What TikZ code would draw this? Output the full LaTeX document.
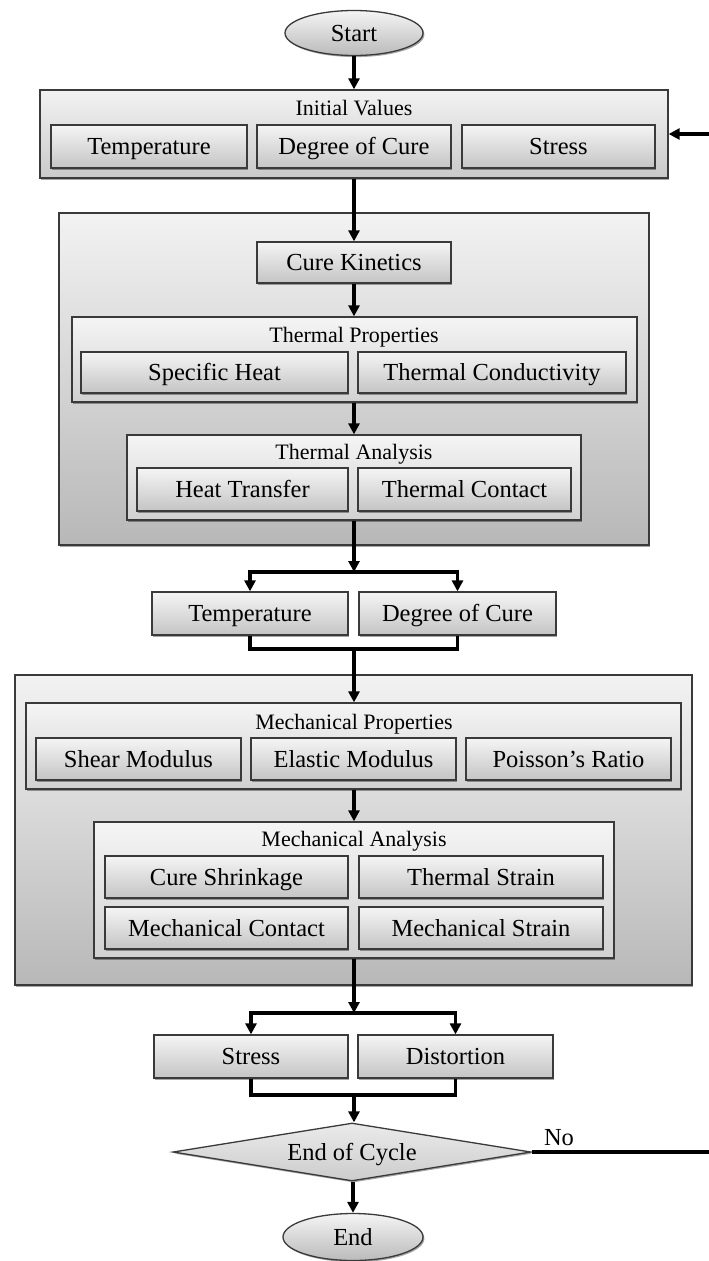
\documentclass[tikz,border=0pt]{standalone}
\usepackage{fontspec}
\setmainfont{Liberation Serif}
\usetikzlibrary{shapes.geometric,shadows,arrows.meta}
\definecolor{bordc}{HTML}{3A3A3A}
\tikzset{
  base/.style={draw=bordc, line width=1.3pt, inner sep=0pt, anchor=center,
    font=\fontsize{24.5}{28}\selectfont, text height=19pt, text depth=3pt,
    drop shadow={shadow xshift=1.4pt, shadow yshift=-1.6pt, fill=black, opacity=0.35}},
  leaf/.style={base, rectangle, top color=white!96!black, bottom color=white!77!black},
  subgrp/.style={base, rectangle, top color=white!96!black, bottom color=white!82!black},
  outgrp/.style={base, rectangle, top color=white!95!black, bottom color=white!72!black},
  initgrp/.style={base, rectangle, top color=white!95!black, bottom color=white!79!black},
  term/.style={base, ellipse, top color=white!96!black, bottom color=white!73!black},
  decide/.style={base, diamond, top color=white!92!black, bottom color=white!80!black},
  title/.style={inner sep=0pt, font=\fontsize{22}{26}\selectfont, text height=17pt, text depth=3pt},
  conn/.style={line width=3.4pt, black},
  arr/.style={conn, -{Triangle[length=11pt,width=11pt]}},
}
\begin{document}
\begin{tikzpicture}[x=1pt,y=-1pt]
\useasboundingbox (0,0) rectangle (709,1261);
\fill[white] (0,0) rectangle (709,1261);

% Start
\node[term, minimum width=138, minimum height=45] (start) at (354,33) {Start};

% Initial values
\node[initgrp, minimum width=628, minimum height=88] (init) at (354,134) {};
\node[title] (initT) at (354,108) {Initial Values};
\node[leaf, minimum width=196, minimum height=43] (T1) at (149,146.5) {Temperature};
\node[leaf, minimum width=194, minimum height=43] (D1) at (354,146.5) {Degree of Cure};
\node[leaf, minimum width=193, minimum height=43] (S1) at (558.5,146.5) {Stress};

% Thermal group
\node[outgrp, minimum width=590, minimum height=332] (thg) at (354,379) {};
\node[leaf, minimum width=194, minimum height=41] (CK) at (354,262.5) {Cure Kinetics};
\node[subgrp, minimum width=565, minimum height=85] (TP) at (354.5,359.5) {};
\node[title] (TPT) at (354,335) {Thermal Properties};
\node[leaf, minimum width=267, minimum height=41] (SH) at (214.5,372.5) {Specific Heat};
\node[leaf, minimum width=268, minimum height=41] (TC) at (492,372.5) {Thermal Conductivity};
\node[subgrp, minimum width=454, minimum height=85] (TA) at (354,477.5) {};
\node[title] (TAT) at (354,452) {Thermal Analysis};
\node[leaf, minimum width=211, minimum height=43] (HT) at (242.5,489.5) {Heat Transfer};
\node[leaf, minimum width=213, minimum height=43] (TCo) at (464.5,489.5) {Thermal Contact};

% Temperature / degree of cure
\node[leaf, minimum width=196, minimum height=43] (T2) at (250,613.5) {Temperature};
\node[leaf, minimum width=197, minimum height=43] (D2) at (457.5,613.5) {Degree of Cure};

% Mechanical group
\node[outgrp, minimum width=677, minimum height=310] (mg) at (353.5,830) {};
\node[subgrp, minimum width=655, minimum height=86] (MP) at (353.5,746) {};
\node[title] (MPT) at (354,722) {Mechanical Properties};
\node[leaf, minimum width=205, minimum height=42] (SM) at (138.5,759) {Shear Modulus};
\node[leaf, minimum width=205, minimum height=42] (EM) at (353.5,759) {Elastic Modulus};
\node[leaf, minimum width=205, minimum height=42] (PR) at (568.5,759) {Poisson’s Ratio};
\node[subgrp, minimum width=520, minimum height=136] (MA) at (354,890) {};
\node[title] (MAT) at (354,839) {Mechanical Analysis};
\node[leaf, minimum width=243, minimum height=42] (CS) at (226.5,877) {Cure Shrinkage};
\node[leaf, minimum width=244, minimum height=42] (TS) at (481,877) {Thermal Strain};
\node[leaf, minimum width=243, minimum height=42] (MC) at (226.5,928) {Mechanical Contact};
\node[leaf, minimum width=244, minimum height=42] (MS) at (481,928) {Mechanical Strain};

% Stress / distortion
\node[leaf, minimum width=194, minimum height=43] (S2) at (251,1056.5) {Stress};
\node[leaf, minimum width=195, minimum height=43] (Dist) at (455.5,1056.5) {Distortion};

% Decision and end
\node[decide, shape aspect=6.17, minimum width=358, minimum height=58] (dec) at (352,1152) {End of Cycle};
\node[inner sep=0pt, font=\fontsize{24.5}{28}\selectfont, text height=19pt, text depth=3pt, anchor=center] (no) at (559,1137) {No};
\node[term, minimum width=140, minimum height=47] (end) at (353,1237) {End};

% coordinates
\coordinate (split1) at (354,572);
\coordinate (join1) at (354,649);
\coordinate (split2) at (354,1013);
\coordinate (join2) at (354,1095);
\coordinate (loop) at (716,1152);

% connectors
\draw[arr] (start.south) -- (init.north);
\draw[arr] (init.south -| CK.north) -- (CK.north);
\draw[arr] (CK.south) -- (TP.north -| CK.south);
\draw[arr] (TP.south -| TA.north) -- (TA.north);
\draw[arr] (TA.south) -- (split1);
\draw[arr] (split1) -| (T2.north);
\draw[arr] (split1) -| (D2.north);
\draw[conn] (T2.south) |- (join1);
\draw[conn] (D2.south) |- (join1);
\draw[arr] (join1) -- (join1 |- MP.north);
\draw[arr] (MP.south -| MA.north) -- (MA.north);
\draw[arr] (MA.south) -- (split2);
\draw[arr] (split2) -| (S2.north);
\draw[arr] (split2) -| (Dist.north);
\draw[conn] (S2.south) |- (join2);
\draw[conn] (Dist.south) |- (join2);
\draw[arr] (join2) -- (join2 |- dec.north);
\draw[arr] (dec.south -| end.north) -- (end.north);
\draw[arr] (dec.east) -- (loop) |- (init.east);
\end{tikzpicture}
\end{document}
